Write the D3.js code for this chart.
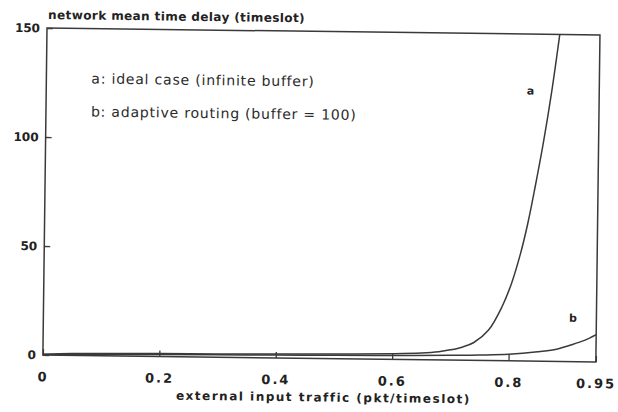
<!DOCTYPE html>
<html>
<head>
<meta charset="utf-8">
<script src="https://cdn.jsdelivr.net/npm/d3@7"></script>
<style>
  body { margin: 0; background: #fff; }
  svg { display: block; }
</style>
</head>
<body>
<div id="chart"></div>
<script>
// data
const trafficA = [0, 0.05, 0.1, 0.2, 0.3, 0.4, 0.5, 0.6, 0.65, 0.68, 0.7, 0.72, 0.74, 0.765, 0.788, 0.804, 0.818, 0.83, 0.842, 0.855, 0.868, 0.881];
const delayA   = [0.3, 0.8, 1.0, 1.3, 1.5, 1.8, 2.1, 2.6, 3.1, 3.8, 4.7, 6.0, 8.2, 14, 25, 36, 49, 63, 80, 100, 123, 150];
const trafficB = [0, 0.1, 0.2, 0.3, 0.4, 0.5, 0.6, 0.7, 0.75, 0.8, 0.85, 0.88, 0.905, 0.93, 0.95];
const delayB   = [0.2, 0.6, 0.9, 1.1, 1.3, 1.5, 1.8, 2.2, 2.5, 3.0, 4.3, 5.5, 7.5, 9.8, 12.5];
const xTicks = [0, 0.2, 0.4, 0.6, 0.8, 0.95];
const yTicks = [0, 50, 100, 150];
const legendLines = ["a: ideal case (infinite buffer)", "b: adaptive routing (buffer = 100)"];

const margin = { top: 28, left: 47 },
    width = 553,
    height = 327;

const ink = "#3a3a3a";

const svg = d3.select("#chart")
    .append("svg")
    .attr("width", 618)
    .attr("height", 412);

// the scan is slightly tilted, so the whole plot is turned a little
const g = svg.append("g")
    .attr("transform", `translate(${margin.left},${margin.top}) rotate(0.72)`);

const x = d3.scaleLinear().domain([0, 0.95]).range([0, width]);
const y = d3.scaleLinear().domain([0, 150]).range([height, 0]);

g.append("clipPath").attr("id", "clip")
    .append("rect").attr("width", width).attr("height", height);

// frame
g.append("rect")
    .attr("width", width)
    .attr("height", height)
    .attr("fill", "none")
    .attr("stroke", ink)
    .attr("stroke-width", 1.5);

const xAxis = g.append("g")
    .attr("transform", "translate(0," + height + ")")
    .call(d3.axisBottom(x).tickValues(xTicks).tickSizeInner(-6).tickSizeOuter(0).tickPadding(17)
        .tickFormat(d => String(d)));

const yAxis = g.append("g")
    .call(d3.axisLeft(y).tickValues(yTicks).tickSizeInner(-6).tickSizeOuter(0).tickPadding(7));

[xAxis, yAxis].forEach(a => {
    a.select(".domain").remove();
    a.selectAll("line").attr("stroke", ink).attr("stroke-width", 1.3);
    a.selectAll("text")
        .attr("fill", "#222")
        .style("font-family", "DejaVu Sans")
        .style("font-weight", "bold")
        .style("font-size", "12px");
});
xAxis.selectAll("text")
    .style("font-size", "13px")
    .style("letter-spacing", "2px");

// curves
const line = d3.line()
    .x(d => x(d[0]))
    .y(d => y(d[1]))
    .curve(d3.curveCatmullRom.alpha(0.5));

const curves = g.append("g").attr("clip-path", "url(#clip)");

curves.append("path")
    .datum(trafficA.map((t, i) => [t, delayA[i]]))
    .attr("d", line)
    .attr("fill", "none")
    .attr("stroke", ink)
    .attr("stroke-width", 1.5);

curves.append("path")
    .datum(trafficB.map((t, i) => [t, delayB[i]]))
    .attr("d", line)
    .attr("fill", "none")
    .attr("stroke", ink)
    .attr("stroke-width", 1.5);

// curve labels
g.append("text").attr("x", x(0.832)).attr("y", y(124)).attr("dy", "0.35em")
    .attr("text-anchor", "middle")
    .style("font-family", "DejaVu Sans").style("font-weight", "bold").style("font-size", "11px")
    .attr("fill", "#222").text("a");
g.append("text").attr("x", x(0.91)).attr("y", y(20)).attr("dy", "0.35em")
    .attr("text-anchor", "middle")
    .style("font-family", "DejaVu Sans").style("font-weight", "bold").style("font-size", "11px")
    .attr("fill", "#222").text("b");

// legend
g.selectAll(".legend")
    .data(legendLines)
    .enter()
    .append("text")
    .attr("class", "legend")
    .attr("x", 45)
    .attr("y", (d, i) => 55 + i * 33)
    .style("font-family", "DejaVu Sans")
    .style("font-size", "14px")
    .style("letter-spacing", "0.8px")
    .attr("fill", "#2a2a2a")
    .text(d => d);

// axis titles
g.append("text")
    .attr("x", 1)
    .attr("y", -9)
    .style("font-family", "DejaVu Sans").style("font-weight", "bold").style("font-size", "12px")
    .style("letter-spacing", "0.4px")
    .attr("fill", "#222")
    .text("network mean time delay (timeslot)");

g.append("text")
    .attr("x", 281)
    .attr("y", 370)
    .attr("text-anchor", "middle")
    .style("font-family", "DejaVu Sans").style("font-weight", "bold").style("font-size", "12px")
    .style("letter-spacing", "1.5px")
    .attr("fill", "#222")
    .text("external input traffic (pkt/timeslot)");
</script>
</body>
</html>
